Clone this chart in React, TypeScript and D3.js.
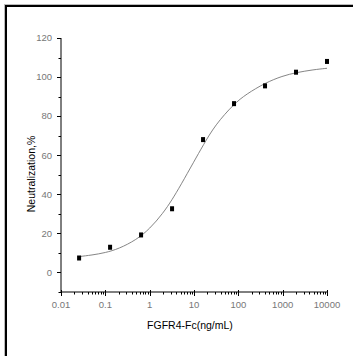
import React, { useEffect, useRef } from 'react'
import * as d3 from 'd3'

// measured points (5-fold dilution series)
const conc = [0.0256, 0.128, 0.64, 3.2, 16, 80, 400, 2000, 10000]
const neutral = [7.4, 12.9, 19.2, 32.6, 68, 86.4, 95.5, 102.5, 108]

// fitted curve
const fitConc = [0.025, 0.05, 0.1, 0.2, 0.5, 1, 2, 3.2, 5, 10, 16, 30, 80, 150, 400, 1000, 2000, 5000, 10000]
const fitValue = [8.1, 8.9, 10.1, 12.1, 16.7, 22.3, 30.3, 37.2, 44.6, 56.8, 65, 75.5, 86.3, 91.2, 97, 100.6, 102.3, 103.8, 104.5]

const xTicks = [0.01, 0.1, 1, 10, 100, 1000, 10000]
const yTicks = [0, 20, 40, 60, 80, 100, 120]

const width = 353
const height = 356

export default function App() {
    const ref = useRef<SVGSVGElement>(null)

    useEffect(() => {
        const svg = d3.select(ref.current)
        svg.selectAll('*').remove()

        const x = d3.scaleLog().domain([0.01, 10000]).range([61, 327])
        const y = d3.scaleLinear().domain([-10, 120]).range([292, 38])

        // outer frame (top + left only)
        svg.append('line').attr('x1', 4).attr('x2', width).attr('y1', 4.5).attr('y2', 4.5)
            .attr('stroke', '#bbb').attr('stroke-width', 1)
        svg.append('line').attr('x1', 4.5).attr('x2', 4.5).attr('y1', 4).attr('y2', height)
            .attr('stroke', '#bbb').attr('stroke-width', 1)
        svg.append('line').attr('x1', 5).attr('x2', width).attr('y1', 6).attr('y2', 6)
            .attr('stroke', '#000').attr('stroke-width', 2)
        svg.append('line').attr('x1', 6).attr('x2', 6).attr('y1', 5).attr('y2', height)
            .attr('stroke', '#000').attr('stroke-width', 2)

        const tickFont = '"Liberation Sans Narrow", "Arial Narrow", "Liberation Sans", Arial, sans-serif'

        // x axis
        const minorX: number[] = []
        for (let e = -2; e < 4; e++) {
            for (let m = 2; m < 10; m++) minorX.push(m * Math.pow(10, e))
        }
        const gx = svg.append('g').attr('transform', 'translate(0,292)')
        gx.append('line').attr('x1', 61).attr('x2', 327).attr('stroke', '#000')
        gx.selectAll('.minor').data(minorX).join('line')
            .attr('x1', d => Math.round(x(d)) + 0.5).attr('x2', d => Math.round(x(d)) + 0.5)
            .attr('y1', 0).attr('y2', 2.5).attr('stroke', '#000')
        gx.selectAll('.major').data(xTicks).join('line')
            .attr('x1', d => Math.round(x(d)) + 0.5).attr('x2', d => Math.round(x(d)) + 0.5)
            .attr('y1', -2).attr('y2', 4).attr('stroke', '#000')
        gx.selectAll('text').data(xTicks).join('text')
            .attr('x', d => x(d)).attr('y', 16)
            .attr('text-anchor', 'middle')
            .attr('font-family', tickFont).attr('font-size', 9.5).attr('fill', '#777')
            .text(d => String(d))

        // y axis
        const minorY = d3.range(-10, 121, 10).filter(v => v % 20 !== 0)
        const gy = svg.append('g').attr('transform', 'translate(61,0)')
        gy.append('line').attr('y1', 38).attr('y2', 292).attr('stroke', '#000')
        gy.selectAll('.minor').data(minorY).join('line')
            .attr('y1', d => Math.round(y(d)) + 0.5).attr('y2', d => Math.round(y(d)) + 0.5)
            .attr('x1', -2.5).attr('x2', 0).attr('stroke', '#000')
        gy.selectAll('.major').data(yTicks).join('line')
            .attr('y1', d => Math.round(y(d)) + 0.5).attr('y2', d => Math.round(y(d)) + 0.5)
            .attr('x1', -4).attr('x2', 0).attr('stroke', '#000')
        gy.selectAll('text').data(yTicks).join('text')
            .attr('x', -9).attr('y', d => y(d)).attr('dy', '0.35em')
            .attr('text-anchor', 'end')
            .attr('font-family', tickFont).attr('font-size', 9.5).attr('fill', '#777')
            .text(d => String(d))

        // fitted curve
        const fit = fitConc.map((c, i) => [c, fitValue[i]] as [number, number])
        const line = d3.line<[number, number]>()
            .x(d => x(d[0])).y(d => y(d[1]))
            .curve(d3.curveBasis)
        svg.append('path').datum(fit).attr('d', line)
            .attr('fill', 'none').attr('stroke', '#777').attr('stroke-width', 0.9)

        // data points
        svg.selectAll('.pt').data(conc).join('rect')
            .attr('x', d => x(d) - 2).attr('y', (d, i) => y(neutral[i]) - 2.5)
            .attr('width', 4).attr('height', 5).attr('fill', '#000')

        // titles
        svg.append('text')
            .attr('transform', 'translate(35,174) rotate(-90)')
            .attr('text-anchor', 'middle')
            .attr('font-family', 'Liberation Sans, Arial, sans-serif').attr('font-size', 10.5)
            .attr('fill', '#000')
            .text('Neutralization,%')
        svg.append('text')
            .attr('x', 190).attr('y', 329)
            .attr('text-anchor', 'middle')
            .attr('font-family', 'Liberation Sans, Arial, sans-serif').attr('font-size', 10.5)
            .attr('fill', '#000')
            .text('FGFR4-Fc(ng/mL)')
    }, [])

    return (
        <div style={{ position: 'fixed', left: 0, top: 0, background: '#fff' }}>
            <svg ref={ref} width={width} height={height}></svg>
        </div>
    )
}
